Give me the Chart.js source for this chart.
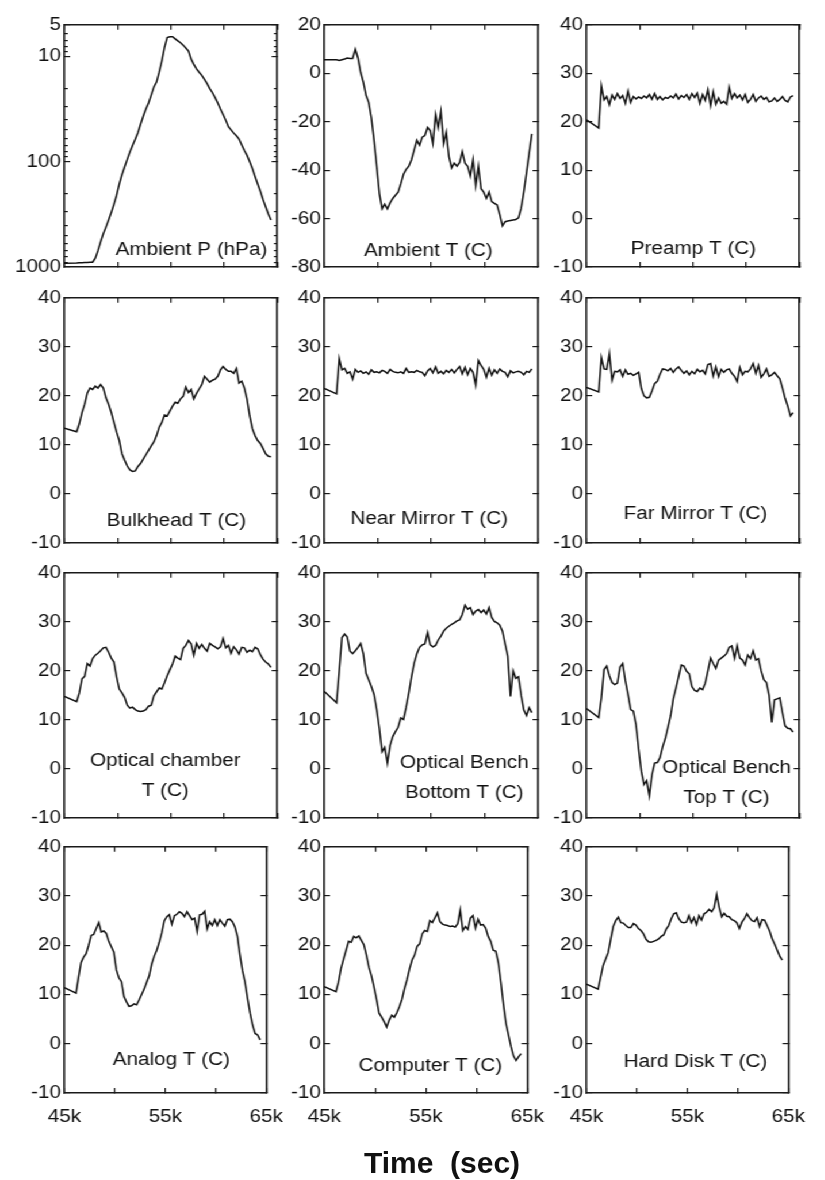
<!DOCTYPE html>
<html>
<head>
<meta charset="utf-8">
<title>Housekeeping temperatures and pressure</title>
<script src="https://cdn.jsdelivr.net/npm/chart.js@4.4.1/dist/chart.umd.min.js"></script>
<style>
  html, body { margin: 0; padding: 0; background: #fff; }
  #page { position: relative; width: 825px; height: 1180px; overflow: hidden; background: #fff; }
  /* the panel grid is drawn in a slightly narrower space and widened as a whole */
  #grid { position: absolute; left: 0; top: 0; width: 718px; height: 1180px;
          transform: scaleX(1.15); transform-origin: 0 0; }
  #grid canvas { position: absolute; }
  #xtitle { position: absolute; left: 292px; width: 300px; top: 1148px; text-align: center;
            font: bold 30px "Liberation Sans", Arial, Helvetica, sans-serif; line-height: 30px;
            white-space: pre; color: #111; }
</style>
</head>
<body>
<div id="page">
  <div id="grid"></div>
  <div id="xtitle">Time  (sec)</div>
</div>
<script>
const FONT = '"Liberation Sans", Arial, Helvetica, sans-serif';
const STRETCH = 1.15;
const TEXT = '#111';
const AXIS = '#1a1a1a';
const LINE = '#111';

// sample times (s)
const timeSec = [45000,
  46150, 46400, 46650, 46900, 47150, 47400, 47650, 47900, 48150, 48400,
  48650, 48900, 49150, 49400, 49650, 49900, 50150, 50400, 50650, 50900,
  51150, 51400, 51650, 51900, 52150, 52400, 52650, 52900, 53150, 53400,
  53650, 53900, 54150, 54400, 54650, 54900, 55150, 55400, 55650, 55900,
  56150, 56400, 56650, 56900, 57150, 57400, 57650, 57900, 58150, 58400,
  58650, 58900, 59150, 59400, 59650, 59900, 60150, 60400, 60650, 60900,
  61150, 61400, 61650, 61900, 62150, 62400, 62650, 62900, 63150, 63400,
  63650, 63900, 64150, 64400];

// ambient pressure (hPa)
const ambientP = [920,
  915, 912, 910, 908, 905, 902, 900, 824, 699, 577,
  483, 418, 358, 303, 254, 208, 163, 133, 112, 95,
  81, 70, 61, 53, 44, 37, 31.6, 27.7, 23.3, 19.5,
  17.5, 14.1, 11.0, 8.2, 6.6, 6.5, 6.5, 6.8, 7.1, 7.4,
  7.8, 8.3, 8.9, 10.6, 11.9, 13.1, 14.1, 15.1, 16.5, 18.1,
  20.2, 22.1, 24.6, 27.7, 31.6, 35.6, 40.3, 46.4, 49.8, 53.5,
  56.7, 60.9, 69.2, 78.2, 87, 100, 116, 138, 163, 191,
  228, 268, 314, 358];

// temperatures (C)
const ambientT = [5.6,
  5.6, 5.3, 5.6, 5.9, 6.3, 6.1, 6.1, 9.9, 6.3, 0.3,
  -3.7, -9.1, -12.0, -18.4, -27.7, -38.4, -49.7, -56.0, -54.1, -56.0,
  -53.5, -51.7, -50.4, -49.1, -45.7, -41.7, -39.7, -38.4, -35.7, -31.7,
  -27.7, -29.7, -26.4, -25.7, -22.4, -23.7, -29.0, -17.1, -22.4, -15.7,
  -29.0, -24.4, -34.4, -39.1, -37.1, -38.4, -36.8, -32.4, -37.1, -38.4,
  -42.4, -35.7, -46.4, -38.4, -47.7, -49.1, -51.7, -49.1, -53.0, -53.7,
  -54.4, -58.4, -63.0, -61.3, -61.0, -60.8, -60.6, -60.4, -59.7, -55.7,
  -49.0, -41.0, -33.0, -25.0];

const preampT = [20.4,
  18.7, 27.4, 24.5, 25.2, 23.5, 25.5, 24.6, 25.8, 24.8, 25.4,
  23.8, 26.3, 24.0, 25.2, 24.7, 25.1, 24.8, 25.3, 24.9, 25.6,
  24.6, 25.8, 24.6, 25.2, 24.5, 25.0, 24.8, 25.3, 24.9, 25.7,
  24.7, 25.4, 25.0, 25.6, 24.6, 25.8, 25.0, 25.9, 23.8, 25.6,
  24.4, 26.6, 23.3, 26.2, 23.6, 24.9, 23.8, 24.2, 23.6, 27.1,
  24.8, 25.8, 24.9, 25.5, 24.5, 25.6, 24.0, 24.6, 25.6, 24.2,
  24.9, 25.3, 24.6, 25.0, 24.1, 24.3, 24.9, 24.2, 24.6, 25.2,
  24.4, 24.1, 25.1, 25.4];

const bulkheadT = [13.4,
  12.7, 14.3, 16.6, 18.3, 20.6, 21.6, 21.3, 22.0, 21.6, 22.3,
  21.6, 19.6, 18.3, 16.6, 14.6, 12.6, 10.9, 8.2, 6.9, 5.7,
  4.9, 4.6, 4.7, 5.6, 6.2, 7.1, 8.0, 8.9, 9.8, 10.6,
  11.9, 13.6, 14.6, 16.1, 15.9, 16.9, 17.9, 18.7, 18.5, 19.4,
  19.9, 21.8, 20.7, 21.3, 19.4, 20.5, 21.4, 22.3, 24.0, 23.4,
  22.8, 23.2, 23.4, 24.0, 25.3, 26.0, 25.4, 25.0, 25.0, 24.6,
  25.6, 22.6, 23.0, 21.6, 19.3, 15.9, 13.3, 11.9, 10.9, 10.3,
  9.3, 8.2, 7.7, 7.6];

const nearMirrorT = [21.5,
  20.4, 27.6, 25.3, 25.6, 24.6, 24.9, 23.4, 25.4, 24.8, 25.1,
  24.6, 24.9, 24.4, 25.3, 24.8, 24.9, 24.7, 25.2, 25.0, 24.6,
  25.4, 25.0, 24.8, 24.7, 24.9, 24.6, 25.6, 24.8, 24.9, 24.8,
  25.2, 24.9, 24.8, 24.1, 25.1, 25.6, 24.7, 25.9, 24.6, 25.0,
  24.5, 25.2, 24.8, 25.4, 24.7, 25.4, 26.0, 24.5, 25.8, 24.3,
  25.6, 24.8, 22.2, 27.2, 26.2, 25.4, 23.8, 25.6, 24.2, 25.3,
  24.6, 25.5, 25.0, 24.8, 23.9, 25.1, 24.7, 24.9, 25.0, 24.8,
  24.3, 25.0, 24.8, 25.5];

const farMirrorT = [21.7,
  20.8, 27.8, 25.5, 25.4, 28.6, 23.2, 25.0, 24.9, 25.3, 24.0,
  25.3, 24.4, 24.6, 24.2, 24.5, 24.8, 21.5, 20.0, 19.6, 19.7,
  21.0, 22.5, 23.0, 24.4, 25.5, 25.4, 25.1, 25.6, 24.8, 25.5,
  25.9, 25.2, 24.6, 25.1, 24.3, 25.0, 24.5, 25.4, 24.9, 25.2,
  24.5, 26.4, 26.6, 24.0, 25.9, 23.9, 25.4, 24.8, 25.3, 25.5,
  24.6, 24.0, 22.9, 25.8, 24.3, 25.0, 24.9, 25.5, 26.6, 24.6,
  26.2, 23.8, 24.5, 25.5, 24.0, 24.3, 24.8, 24.1, 23.5, 21.6,
  19.5, 17.9, 15.9, 16.6];

const opticalChamberT = [14.8,
  13.7, 15.5, 18.4, 18.9, 21.5, 21.0, 22.5, 23.2, 23.6, 24.1,
  24.7, 24.8, 23.8, 22.6, 21.8, 18.8, 16.3, 15.5, 14.6, 13.0,
  12.4, 12.6, 12.1, 11.8, 11.7, 11.8, 12.1, 12.8, 13.0, 14.9,
  15.7, 16.5, 16.3, 17.6, 19.0, 20.2, 21.4, 23.0, 22.6, 22.3,
  24.6, 25.2, 26.2, 25.5, 23.2, 25.6, 24.6, 25.4, 24.6, 24.0,
  25.6, 25.2, 24.9, 24.5, 24.9, 26.6, 24.7, 25.2, 23.6, 24.9,
  24.3, 23.4, 24.8, 24.7, 23.8, 24.2, 23.9, 24.8, 24.5, 23.3,
  22.4, 21.8, 21.4, 20.7];

const benchBottomT = [15.8,
  13.5, 20.0, 26.8, 27.5, 26.9, 24.0, 23.5, 24.1, 24.8, 25.6,
  23.5, 19.5, 18.2, 16.8, 15.2, 12.1, 8.2, 3.5, 4.4, 1.2,
  4.8, 6.6, 7.6, 8.5, 10.4, 10.1, 12.6, 15.5, 18.8, 21.6,
  23.5, 24.8, 25.3, 25.5, 27.8, 25.3, 24.9, 25.2, 26.3, 27.1,
  28.1, 28.7, 29.1, 29.5, 29.8, 30.2, 30.4, 31.5, 33.4, 32.6,
  32.9, 31.5, 32.2, 32.5, 31.9, 32.4, 31.6, 32.9, 30.9, 30.1,
  29.8, 29.3, 28.1, 25.5, 23.0, 14.8, 20.0, 18.5, 18.8, 15.0,
  12.0, 10.9, 12.5, 11.5];

const benchTopT = [12.3,
  10.5, 14.5, 20.3, 21.0, 19.0, 17.6, 17.2, 17.5, 20.8, 21.5,
  18.0, 15.2, 12.1, 11.8, 9.0, 4.0, -0.5, -3.2, -2.4, -5.5,
  -1.2, 1.2, 1.3, 2.3, 4.5, 6.2, 8.5, 10.8, 14.3, 16.5,
  18.8, 21.2, 21.0, 19.9, 19.4, 16.8, 16.0, 15.8, 16.5, 16.2,
  17.5, 20.0, 22.6, 21.5, 20.5, 22.2, 22.6, 23.0, 23.5, 24.8,
  25.1, 22.6, 25.1, 22.6, 22.2, 21.2, 23.2, 22.5, 24.1, 22.2,
  22.5, 20.0, 18.2, 17.6, 15.0, 9.5, 14.1, 14.3, 14.5, 11.5,
  8.8, 8.3, 8.2, 7.5];

const analogT = [11.4,
  10.3, 13.5, 16.5, 17.6, 18.3, 20.0, 22.0, 22.2, 23.4, 24.6,
  22.7, 22.9, 22.4, 20.8, 19.7, 18.6, 15.0, 13.4, 12.6, 9.6,
  8.5, 7.6, 7.7, 8.1, 7.9, 8.9, 10.0, 11.1, 12.5, 13.8,
  16.2, 17.8, 19.0, 20.6, 22.5, 25.0, 25.8, 26.2, 24.3, 26.0,
  26.3, 26.8, 26.5, 25.8, 26.8, 26.0, 25.2, 25.5, 22.8, 26.2,
  26.3, 26.9, 23.3, 24.8, 24.0, 25.2, 24.0, 25.2, 24.5, 23.9,
  25.2, 25.3, 24.8, 23.7, 21.8, 18.0, 14.8, 12.5, 9.2, 6.2,
  3.8, 2.1, 1.8, 0.8];

const computerT = [11.6,
  10.6, 12.5, 15.3, 17.2, 19.0, 20.8, 20.6, 21.8, 21.5, 21.9,
  21.0, 20.1, 18.0, 15.5, 13.8, 11.5, 9.0, 6.2, 5.4, 4.5,
  3.4, 4.8, 5.8, 5.4, 6.3, 7.5, 9.0, 11.2, 13.0, 15.2,
  17.0, 18.0, 19.8, 20.3, 22.3, 23.0, 22.8, 25.0, 24.6, 25.6,
  26.6, 24.8, 24.3, 24.1, 24.0, 23.8, 23.9, 23.7, 24.4, 27.2,
  23.0, 23.8, 23.2, 25.5, 26.0, 23.5, 25.3, 24.1, 24.2, 23.5,
  21.8, 20.8, 19.0, 18.8, 16.5, 12.5, 8.0, 4.2, 1.8, -0.6,
  -2.5, -3.4, -2.6, -2.0];

const hardDiskT = [12.1,
  11.1, 13.5, 15.9, 17.2, 18.5, 21.2, 23.8, 25.0, 25.7, 24.6,
  24.5, 24.0, 23.6, 23.6, 24.4, 24.1, 23.4, 23.0, 22.3, 21.2,
  20.7, 20.6, 20.8, 21.0, 21.3, 21.8, 22.1, 23.3, 24.0, 25.4,
  26.4, 26.6, 25.4, 24.7, 24.6, 24.7, 26.0, 24.6, 25.6, 24.2,
  26.0, 25.1, 26.4, 26.7, 27.3, 26.8, 27.6, 30.3, 27.7, 25.8,
  26.5, 25.9, 25.8, 25.2, 25.0, 24.6, 23.4, 24.7, 25.4, 26.4,
  25.6, 25.0, 24.8, 25.6, 23.8, 25.2, 25.1, 24.0, 22.9, 21.3,
  20.2, 19.0, 17.8, 17.0];

// axis ticks
const xTickValues = [45000, 50000, 55000, 60000, 65000];
const xTickText = ['45k', '', '55k', '', '65k'];
const pressureTicks = [5, 10, 100, 1000];
const pressureMinorTicks = [6, 7, 8, 9, 20, 30, 40, 50, 60, 70, 80, 90,
                            200, 300, 400, 500, 600, 700, 800, 900];
const ambientTTicks = [-80, -60, -40, -20, 0, 20];
const tempTicks = [-10, 0, 10, 20, 30, 40];

// panel captions
const captions = [
  ['Ambient P (hPa)'], ['Ambient T (C)'], ['Preamp T (C)'],
  ['Bulkhead T (C)'], ['Near Mirror T (C)'], ['Far Mirror T (C)'],
  ['Optical chamber', 'T (C)'], ['Optical Bench', 'Bottom T (C)'], ['Optical Bench', 'Top T (C)'],
  ['Analog T (C)'], ['Computer T (C)'], ['Hard Disk T (C)']
];

// grid geometry (page pixels)
const colLeft = [64, 324, 587];
const colRight = [277, 538, 800];
const rowTop = [20, 293, 568, 842];
const rowBottom = [267, 543, 818, 1093];

// caption placement inside each plot: centre x, centre y of first line
const captionPos = [
  [127, 225], [104, 226], [107, 224],
  [112, 223], [105, 221], [109, 216],
  [101, 188], [140, 190], [140, 195],
  [107, 213], [106, 219], [109, 215]
];

const panels = [
  { values: ambientP, log: true, min: 5, max: 1000, ticks: pressureTicks, minor: pressureMinorTicks },
  { values: ambientT, min: -80, max: 20, ticks: ambientTTicks },
  { values: preampT, min: -10, max: 40, ticks: tempTicks },
  { values: bulkheadT, min: -10, max: 40, ticks: tempTicks },
  { values: nearMirrorT, min: -10, max: 40, ticks: tempTicks },
  { values: farMirrorT, min: -10, max: 40, ticks: tempTicks },
  { values: opticalChamberT, min: -10, max: 40, ticks: tempTicks },
  { values: benchBottomT, min: -10, max: 40, ticks: tempTicks },
  { values: benchTopT, min: -10, max: 40, ticks: tempTicks },
  { values: analogT, min: -10, max: 40, ticks: tempTicks },
  { values: computerT, min: -10, max: 40, ticks: tempTicks },
  { values: hardDiskT, min: -10, max: 40, ticks: tempTicks }
];

// caption text drawn inside the plot area
const captionPlugin = {
  id: 'caption',
  afterDatasetsDraw(chart, args, opts) {
    const { ctx, chartArea } = chart;
    ctx.save();
    ctx.font = opts.size + 'px ' + FONT;
    ctx.fillStyle = TEXT;
    ctx.textAlign = 'center';
    ctx.textBaseline = 'middle';
    opts.lines.forEach((t, i) => {
      ctx.fillText(t, chartArea.left + opts.dx / STRETCH, chartArea.top + opts.dy + i * opts.gap);
    });
    ctx.restore();
  }
};

const border = { display: true, color: AXIS, width: 1.6 };
const noBorder = { display: false };
const inwardTicks = len => ({ display: true, drawOnChartArea: false, drawTicks: true,
                              tickLength: -len, color: AXIS, lineWidth: 1.2 });
const useTicks = vals => scale => { scale.ticks = vals.map(v => ({ value: v })); };
const fixWidth = w => scale => { scale.width = w; };
const fixHeight = h => scale => { scale.height = h; };
const tickFont = { family: FONT, size: 18 };

const gridEl = document.getElementById('grid');
const YW = 60, PT = 14, XH = 40;

panels.forEach((p, i) => {
  const r = Math.floor(i / 3), c = i % 3;
  const plotL = colLeft[c] / STRETCH;
  const plotW = (colRight[c] - colLeft[c]) / STRETCH;
  const plotT = rowTop[r];
  const plotH = rowBottom[r] - rowTop[r];
  const cw = Math.ceil(plotW + YW + 22);
  const padR = cw - plotW - YW;
  const ch = plotH + PT + XH;

  const cv = document.createElement('canvas');
  cv.width = cw; cv.height = ch;
  cv.style.left = (plotL - YW) + 'px';
  cv.style.top = (plotT - PT) + 'px';
  cv.style.width = cw + 'px';
  cv.style.height = ch + 'px';
  gridEl.appendChild(cv);

  const yBase = { type: p.log ? 'logarithmic' : 'linear', min: p.min, max: p.max, reverse: !!p.log };
  const scales = {
    x: {
      type: 'linear', position: 'bottom', min: 45000, max: 65000,
      border, grid: inwardTicks(5),
      ticks: { display: r === 3, autoSkip: false, maxRotation: 0, minRotation: 0, padding: 18,
               color: TEXT, font: tickFont,
               callback: v => xTickText[xTickValues.indexOf(v)] || '' },
      afterBuildTicks: useTicks(xTickValues), afterFit: fixHeight(XH)
    },
    xTop: {
      type: 'linear', position: 'top', min: 45000, max: 65000,
      border, grid: inwardTicks(5), ticks: { display: false },
      afterBuildTicks: useTicks(xTickValues), afterFit: fixHeight(0)
    },
    y: {
      ...yBase, position: 'left', weight: 1, border, grid: inwardTicks(5),
      ticks: { autoSkip: false, padding: 8, color: TEXT, font: tickFont,
               callback: v => (p.ticks.includes(v) ? String(v) : '') },
      afterBuildTicks: useTicks(p.ticks), afterFit: fixWidth(YW)
    },
    yRight: {
      ...yBase, position: 'right', weight: 1, border, grid: inwardTicks(5),
      ticks: { display: false },
      afterBuildTicks: useTicks(p.ticks), afterFit: fixWidth(0)
    }
  };
  if (p.minor) {
    scales.yMinorL = {
      ...yBase, position: 'left', weight: 0, border: noBorder, grid: inwardTicks(3),
      ticks: { display: false }, afterBuildTicks: useTicks(p.minor), afterFit: fixWidth(0)
    };
    scales.yMinorR = {
      ...yBase, position: 'right', weight: 0, border: noBorder, grid: inwardTicks(3),
      ticks: { display: false }, afterBuildTicks: useTicks(p.minor), afterFit: fixWidth(0)
    };
  }

  new Chart(cv, {
    type: 'line',
    data: {
      datasets: [{
        data: p.values.map((v, k) => ({ x: timeSec[k], y: v })),
        xAxisID: 'x', yAxisID: 'y',
        borderColor: LINE, borderWidth: 1.5, pointRadius: 0, tension: 0, fill: false
      }]
    },
    options: {
      responsive: false,
      animation: false,
      events: [],
      layout: { padding: { left: 0, top: PT, right: padR, bottom: 0 }, autoPadding: false },
      scales,
      plugins: {
        legend: { display: false },
        tooltip: { enabled: false },
        caption: { lines: captions[i], dx: captionPos[i][0], dy: captionPos[i][1], gap: 30, size: 18 }
      }
    },
    plugins: [captionPlugin]
  });
});
</script>
</body>
</html>
